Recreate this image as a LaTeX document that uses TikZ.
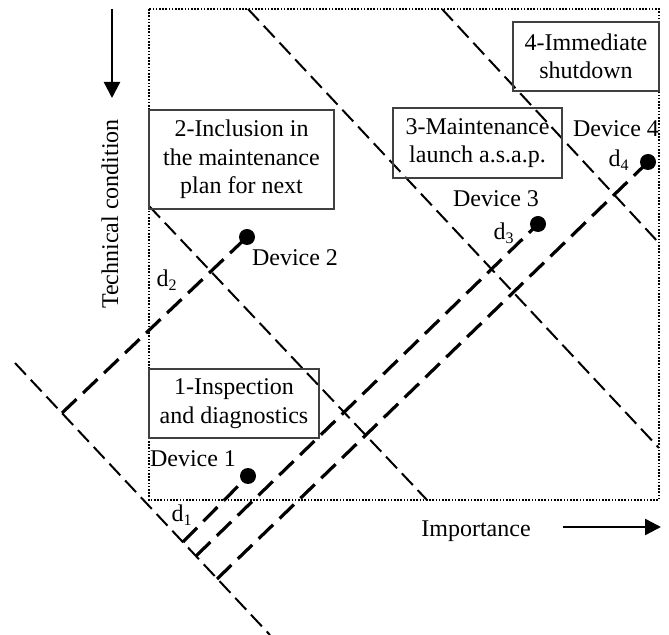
\documentclass[tikz,border=0pt]{standalone}
\usepackage{fontspec}
\setmainfont{Liberation Serif}
\usetikzlibrary{arrows.meta}
\begin{document}
\begin{tikzpicture}[x=0.5pt,y=-0.5pt,
  every node/.style={font=\fontsize{12}{14.25}\selectfont, inner sep=0pt},
  frame/.style={line width=1.1pt, dash pattern=on 0.8pt off 0.8pt},
  zone/.style={line width=1pt, dash pattern=on 8pt off 3.5pt},
  proj/.style={line width=1.6pt, dash pattern=on 10pt off 4.5pt},
  zonebox/.style={draw=black!75, line width=0.6pt, align=center},
  dev/.style={circle, fill=black, minimum size=8pt},
  axisarrow/.style={line width=1.2pt, -{Triangle[length=8pt,width=8pt]}},
  lbl/.style={anchor=base}
]
\useasboundingbox (0,0) rectangle (669,635);

% frame
\coordinate (F1) at (149,9);
\coordinate (F2) at (659,500);
\draw[frame] (F1) rectangle (F2);

% zone boundaries
\coordinate (A1) at (149,206); \coordinate (A2) at (427,500);
\coordinate (B1) at (248,9);   \coordinate (B2) at (659,448);
\coordinate (C1) at (442,9);   \coordinate (C2) at (659,243);
\coordinate (D1) at (15,363);  \coordinate (D2) at (270,635);
\draw[zone] (A1) -- (A2);
\draw[zone] (B1) -- (B2);
\draw[zone] (C1) -- (C2);
\draw[zone] (D1) -- (D2);

% boxes
\node[zonebox, minimum width=92.5pt, minimum height=49.5pt] (box2) at (241.5,159.5)
  {2-Inclusion in\\the maintenance\\plan for next};
\node[zonebox, minimum width=84.5pt, minimum height=35pt] (box3) at (477.5,143)
  {3-Maintenance\\launch a.s.a.p.};
\node[zonebox, minimum width=73pt, minimum height=34.5pt] (box4) at (586,56.5)
  {4-Immediate\\shutdown};
\node[zonebox, minimum width=85pt, minimum height=34.5pt] (box1) at (234,403.5)
  {1-Inspection\\and diagnostics};

% devices
\node[dev] (dev1) at (248,476) {};
\node[dev] (dev2) at (247,237) {};
\node[dev] (dev3) at (538,224) {};
\node[dev] (dev4) at (648,162) {};

% projection feet
\coordinate (P1) at (183,542);
\coordinate (P2) at (62,413);
\coordinate (P3) at (196,556);
\coordinate (P4) at (217,579);
\draw[proj] (P1) -- (dev1.center);
\draw[proj] (P2) -- (dev2.center);
\draw[proj] (P3) -- (dev3.center);
\draw[proj] (P4) -- (dev4.center);

% labels
\node[lbl] (l1) at (193,467) {Device 1};
\node[lbl] (l2) at (295,266) {Device 2};
\node[lbl] (l3) at (496,207) {Device 3};
\node[lbl] (l4) at (616,137) {Device 4};
\node[lbl] (m1) at (182,522) {d\textsubscript{1}};
\node[lbl] (m2) at (167,287) {d\textsubscript{2}};
\node[lbl] (m3) at (504,240) {d\textsubscript{3}};
\node[lbl] (m4) at (619,167) {d\textsubscript{4}};

% axes
\node[lbl] (imp) at (476,537) {Importance};
\node[lbl, rotate=90] (tech) at (118,214) {Technical condition};
\coordinate (V1) at (112,9);  \coordinate (V2) at (112,98);
\coordinate (H1) at (563,527); \coordinate (H2) at (661,527);
\draw[axisarrow] (V1) -- (V2);
\draw[axisarrow] (H1) -- (H2);
\end{tikzpicture}
\end{document}
